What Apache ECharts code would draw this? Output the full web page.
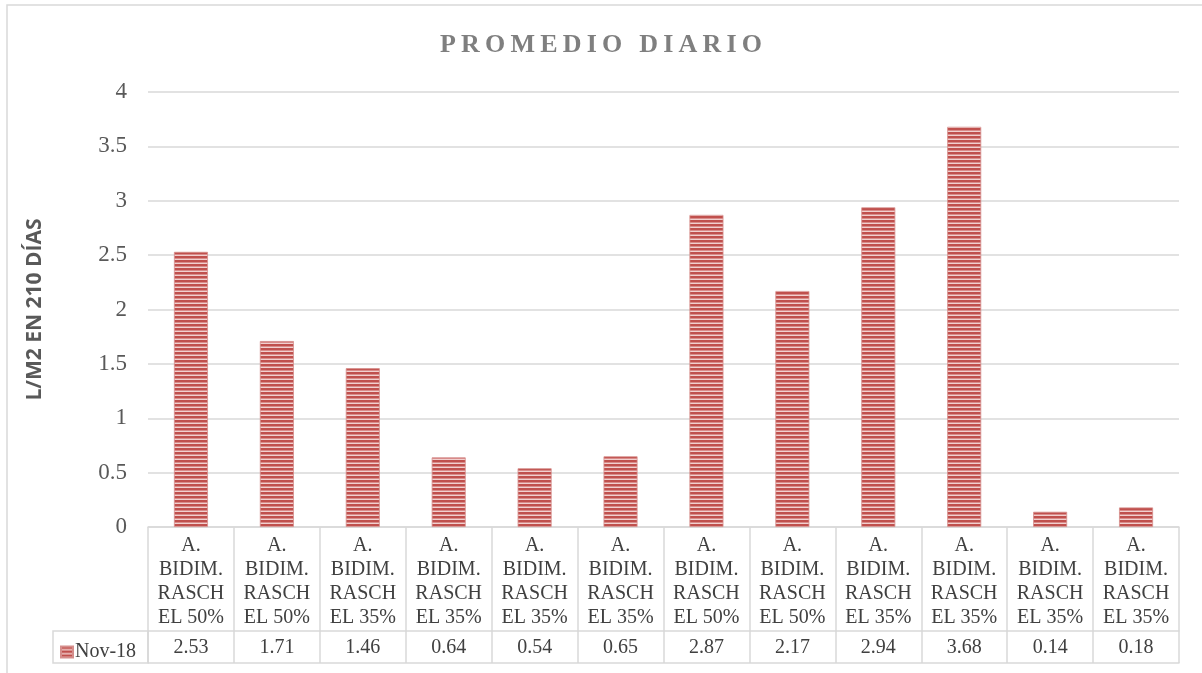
<!DOCTYPE html>
<html>
<head>
<meta charset="utf-8">
<script src="https://cdn.jsdelivr.net/npm/echarts@6/dist/echarts.min.js"></script>
<style>
  html, body { margin: 0; padding: 0; background: #fff; }
  #chart { width: 1202px; height: 673px; }
</style>
</head>
<body>
<div id="chart"></div>
<script>
// datos del grafico
const categories = [
  'A.\nBIDIM.\nRASCH\nEL 50%', 'A.\nBIDIM.\nRASCH\nEL 50%', 'A.\nBIDIM.\nRASCH\nEL 35%',
  'A.\nBIDIM.\nRASCH\nEL 35%', 'A.\nBIDIM.\nRASCH\nEL 35%', 'A.\nBIDIM.\nRASCH\nEL 35%',
  'A.\nBIDIM.\nRASCH\nEL 50%', 'A.\nBIDIM.\nRASCH\nEL 50%', 'A.\nBIDIM.\nRASCH\nEL 35%',
  'A.\nBIDIM.\nRASCH\nEL 35%', 'A.\nBIDIM.\nRASCH\nEL 35%', 'A.\nBIDIM.\nRASCH\nEL 35%'
]
const seriesName = 'Nov-18'
const values = [2.53, 1.71, 1.46, 0.64, 0.54, 0.65, 2.87, 2.17, 2.94, 3.68, 0.14, 0.18]
const yTicks = { min: 0, max: 4, interval: 0.5 }

const serif = '"Liberation Serif", "Times New Roman", serif'
const lineColor = '#d9d9d9'
const textColor = '#404040'

// titulo con espaciado entre letras (espacio fino)
const titleText = 'PROMEDIO DIARIO'.split('').join('\u2009')

// patron de rayas horizontales para las barras
function stripes() {
  const c = document.createElement('canvas')
  c.width = 4
  c.height = 4
  const ctx = c.getContext('2d')
  const rows = ['#c0504d', '#c0504d', '#d98c8a', '#f1d0cf']
  rows.forEach((col, i) => {
    ctx.fillStyle = col
    ctx.fillRect(0, i, 4, 1)
  })
  return c
}
const pattern = { image: stripes(), repeat: 'repeat' }

const myChart = echarts.init(document.getElementById('chart'))

myChart.setOption({
  animation: false,
  title: {
    text: titleText,
    left: 'center',
    top: 27,
    textStyle: { fontFamily: serif, fontWeight: 'bold', fontSize: 26, color: '#7f7f7f' }
  },
  legend: {
    data: [seriesName],
    left: 55,
    top: 637,
    icon: 'rect',
    itemWidth: 12,
    itemHeight: 11,
    itemGap: 4,
    textStyle: { fontFamily: serif, fontSize: 20, color: textColor, padding: [0, 0, 0, -3] }
  },
  grid: { left: 148, right: 23, top: 92, bottom: 146 },
  xAxis: [
    {
      type: 'category',
      data: categories,
      axisLine: { lineStyle: { color: lineColor, width: 1.5 } },
      axisTick: { show: true, length: 136, lineStyle: { color: lineColor, width: 1.5 } },
      axisLabel: {
        interval: 0, margin: 7, fontFamily: serif, fontSize: 20,
        lineHeight: 24, color: textColor
      }
    },
    {
      type: 'category',
      position: 'bottom',
      offset: 104,
      data: values.map(v => v.toFixed(2)),
      axisLine: { show: true, lineStyle: { color: lineColor, width: 1.5 } },
      axisTick: { show: false },
      axisLabel: { interval: 0, margin: 7, fontFamily: serif, fontSize: 20, color: textColor }
    },
    {
      type: 'category',
      position: 'bottom',
      offset: 136,
      data: categories,
      axisLine: { show: true, lineStyle: { color: lineColor, width: 1.5 } },
      axisTick: { show: false },
      axisLabel: { show: false }
    }
  ],
  yAxis: {
    type: 'value',
    min: yTicks.min,
    max: yTicks.max,
    interval: yTicks.interval,
    name: 'L/M2 EN 210 DÍAS',
    nameLocation: 'middle',
    nameGap: 102,
    nameTextStyle: { fontFamily: '"Open Sans", "Noto Sans", sans-serif', fontWeight: 'bold', fontSize: 21, color: '#595959' },
    axisLine: { show: false },
    axisTick: { show: false },
    splitLine: { lineStyle: { color: lineColor, width: 1.5 } },
    axisLabel: { margin: 21, fontFamily: serif, fontSize: 23, color: '#595959' }
  },
  series: [{
    name: seriesName,
    type: 'bar',
    data: values,
    barWidth: 34,
    itemStyle: { color: pattern, borderColor: '#d58e8c', borderWidth: 0.8 }
  }],
  graphic: [
    {
      type: 'rect',
      shape: { x: 7, y: 5, width: 1210, height: 700 },
      style: { fill: 'none', stroke: lineColor, lineWidth: 1.5 },
      silent: true
    },
    {
      type: 'rect',
      shape: { x: 53, y: 631, width: 95, height: 32 },
      style: { fill: 'none', stroke: lineColor, lineWidth: 1.5 },
      silent: true
    }
  ]
})

window.onresize = function () {
  myChart.resize()
}
</script>
</body>
</html>
